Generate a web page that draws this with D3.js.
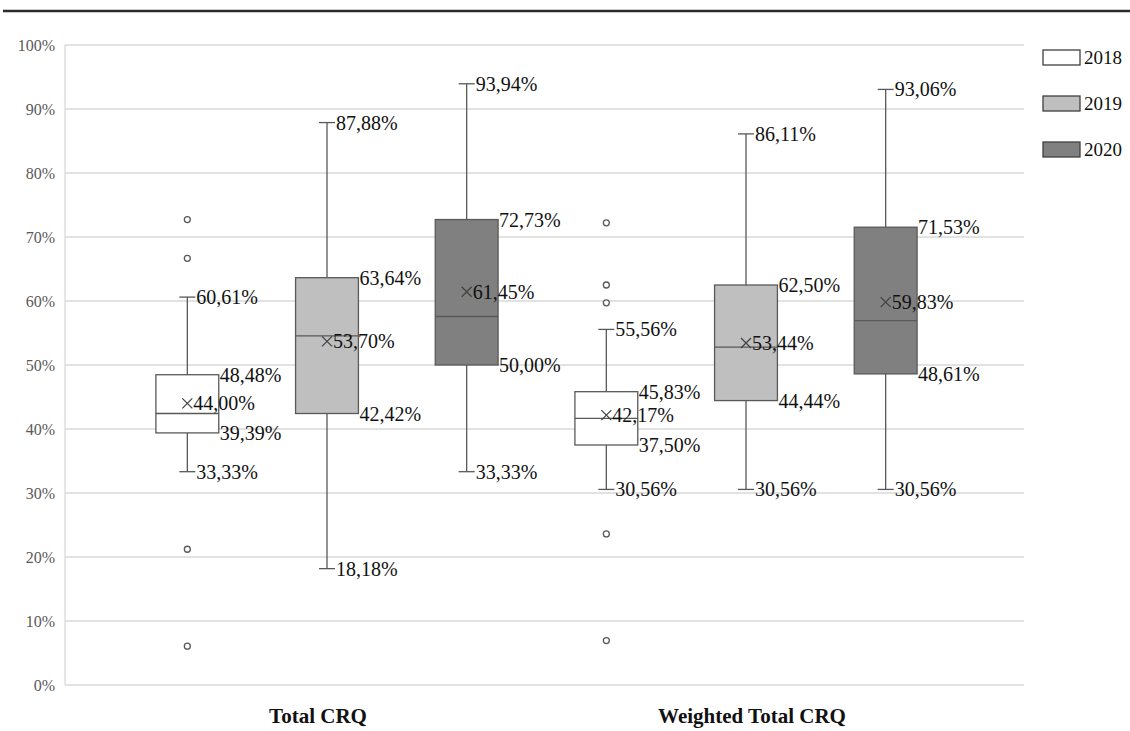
<!DOCTYPE html>
<html>
<head>
<meta charset="utf-8">
<script src="https://cdn.jsdelivr.net/npm/d3@7"></script>
<style>
  body { margin: 0; background: #fff; }
  text { font-family: "Liberation Serif", "Times New Roman", serif; }
</style>
</head>
<body>
<div id="chart-area"></div>
<script>
// Categories and series
var categories = ["Total CRQ", "Weighted Total CRQ"];
var years = ["2018", "2019", "2020"];
var fills = ["#ffffff", "#bfbfbf", "#808080"];

// Box statistics in percent, [category][year]
var mins    = [[33.33, 18.18, 33.33], [30.56, 30.56, 30.56]];
var q1s     = [[39.39, 42.42, 50.00], [37.50, 44.44, 48.61]];
var medians = [[42.42, 54.55, 57.58], [41.67, 52.78, 56.94]];
var q3s     = [[48.48, 63.64, 72.73], [45.83, 62.50, 71.53]];
var maxs    = [[60.61, 87.88, 93.94], [55.56, 86.11, 93.06]];
var means   = [[44.00, 53.70, 61.45], [42.17, 53.44, 59.83]];
var outliers = [
    [[72.73, 66.67, 21.21, 6.06], [], []],
    [[72.22, 62.50, 59.72, 23.61, 6.94], [], []]
];

var yTicks = [0, 10, 20, 30, 40, 50, 60, 70, 80, 90, 100];

var W = 1130, H = 731;
var margin = { left: 65, right: 106, top: 45, bottom: 46 };
var width = W - margin.left - margin.right,
    height = H - margin.top - margin.bottom;

var svg = d3.select("#chart-area")
    .append("svg")
        .attr("width", W)
        .attr("height", H);

// Top rule
svg.append("line")
    .attr("x1", 3).attr("x2", W)
    .attr("y1", 11).attr("y2", 11)
    .attr("stroke", "#2b2b2b")
    .attr("stroke-width", 2.5);

var g = svg.append("g")
    .attr("transform", "translate(" + margin.left + ", " + margin.top + ")");

// Scales
var y = d3.scaleLinear().domain([0, 100]).range([height, 0]);
var x = d3.scaleBand().domain(categories).range([52.5, 890.5]).padding(0);
var xs = d3.scaleBand().domain(years).range([0, x.bandwidth()])
    .paddingInner(0.55).paddingOuter(0.275);

// Gridlines
g.selectAll(".grid")
    .data(yTicks)
    .enter().append("line")
        .attr("x1", 0).attr("x2", width)
        .attr("y1", function(d){ return y(d); })
        .attr("y2", function(d){ return y(d); })
        .attr("stroke", "#d9d9d9")
        .attr("stroke-width", 1.3);

g.append("line")
    .attr("x1", 0).attr("x2", 0)
    .attr("y1", 0).attr("y2", height)
    .attr("stroke", "#d9d9d9")
    .attr("stroke-width", 1.3);

// Y axis labels
var yAxis = d3.axisLeft(y)
    .tickValues(yTicks)
    .tickSize(0)
    .tickPadding(10)
    .tickFormat(function(d){ return d + "%"; });
var yAxisGroup = g.append("g").call(yAxis);
yAxisGroup.select(".domain").remove();
yAxisGroup.selectAll("text")
    .attr("font-family", "Liberation Serif")
    .attr("font-size", "16px")
    .attr("fill", "#595959");

// X axis labels
g.selectAll(".cat")
    .data(categories)
    .enter().append("text")
        .attr("x", function(d, i){ return x(d) + x.bandwidth() / 2 + (i == 0 ? -9 : 6); })
        .attr("y", height + 38)
        .attr("text-anchor", "middle")
        .attr("font-size", "21px")
        .attr("font-weight", "bold")
        .attr("fill", "#111")
        .text(function(d){ return d; });

// Flatten boxes
var boxes = [];
categories.forEach(function(c, i) {
    years.forEach(function(yr, j) {
        boxes.push({
            cat: c, year: yr, fill: fills[j],
            min: mins[i][j], q1: q1s[i][j], med: medians[i][j],
            q3: q3s[i][j], max: maxs[i][j], mean: means[i][j],
            out: outliers[i][j]
        });
    });
});

function cx(d){ return x(d.cat) + xs(d.year) + xs.bandwidth() / 2; }
function fmt(v){ return d3.format(".2f")(v).replace(".", ",") + "%"; }

var stroke = "#595959";
var cap = 8;
var bw = xs.bandwidth();

var box = g.selectAll(".box")
    .data(boxes)
    .enter().append("g");

// Whiskers
box.append("line")
    .attr("x1", cx).attr("x2", cx)
    .attr("y1", function(d){ return y(d.max); })
    .attr("y2", function(d){ return y(d.q3); })
    .attr("stroke", stroke).attr("stroke-width", 1.3);
box.append("line")
    .attr("x1", cx).attr("x2", cx)
    .attr("y1", function(d){ return y(d.q1); })
    .attr("y2", function(d){ return y(d.min); })
    .attr("stroke", stroke).attr("stroke-width", 1.3);
["max", "min"].forEach(function(k) {
    box.append("line")
        .attr("x1", function(d){ return cx(d) - cap; })
        .attr("x2", function(d){ return cx(d) + cap; })
        .attr("y1", function(d){ return y(d[k]); })
        .attr("y2", function(d){ return y(d[k]); })
        .attr("stroke", stroke).attr("stroke-width", 1.3);
});

// Box
box.append("rect")
    .attr("x", function(d){ return cx(d) - bw / 2; })
    .attr("width", bw)
    .attr("y", function(d){ return y(d.q3); })
    .attr("height", function(d){ return y(d.q1) - y(d.q3); })
    .attr("fill", function(d){ return d.fill; })
    .attr("stroke", stroke).attr("stroke-width", 1.3);

// Median
box.append("line")
    .attr("x1", function(d){ return cx(d) - bw / 2; })
    .attr("x2", function(d){ return cx(d) + bw / 2; })
    .attr("y1", function(d){ return y(d.med); })
    .attr("y2", function(d){ return y(d.med); })
    .attr("stroke", stroke).attr("stroke-width", 1.3);

// Mean marker
var m = 5;
box.append("path")
    .attr("d", function(d){
        var px = cx(d), py = y(d.mean);
        return "M" + (px - m) + "," + (py - m) + "L" + (px + m) + "," + (py + m) +
               "M" + (px - m) + "," + (py + m) + "L" + (px + m) + "," + (py - m);
    })
    .attr("stroke", "#404040").attr("stroke-width", 1.2).attr("fill", "none");

// Outliers
box.each(function(d) {
    d3.select(this).selectAll("circle")
        .data(d.out)
        .enter().append("circle")
            .attr("cx", cx(d))
            .attr("cy", function(v){ return y(v); })
            .attr("r", 3)
            .attr("fill", "#fff")
            .attr("stroke", stroke)
            .attr("stroke-width", 1.3);
});

// Data labels
function label(sel, key, dx) {
    sel.append("text")
        .attr("x", function(d){ return cx(d) + dx; })
        .attr("y", function(d){ return y(d[key]); })
        .attr("dy", "0.35em")
        .attr("font-size", "20px")
        .attr("fill", "#111")
        .text(function(d){ return fmt(d[key]); });
}
label(box, "max", cap + 1);
label(box, "min", cap + 1);
label(box, "q3", bw / 2 + 1);
label(box, "q1", bw / 2 + 1);
label(box, "mean", m + 1);

// Legend
var legend = svg.selectAll(".legend")
    .data(years)
    .enter().append("g")
        .attr("transform", function(d, i){ return "translate(1043," + (50 + i * 46) + ")"; });
legend.append("rect")
    .attr("width", 37).attr("height", 15)
    .attr("fill", function(d, i){ return fills[i]; })
    .attr("stroke", "#404040").attr("stroke-width", 1.3);
legend.append("text")
    .attr("x", 41).attr("y", 7.5)
    .attr("dy", "0.35em")
    .attr("font-size", "19px")
    .attr("fill", "#111")
    .text(function(d){ return d; });
</script>
</body>
</html>
